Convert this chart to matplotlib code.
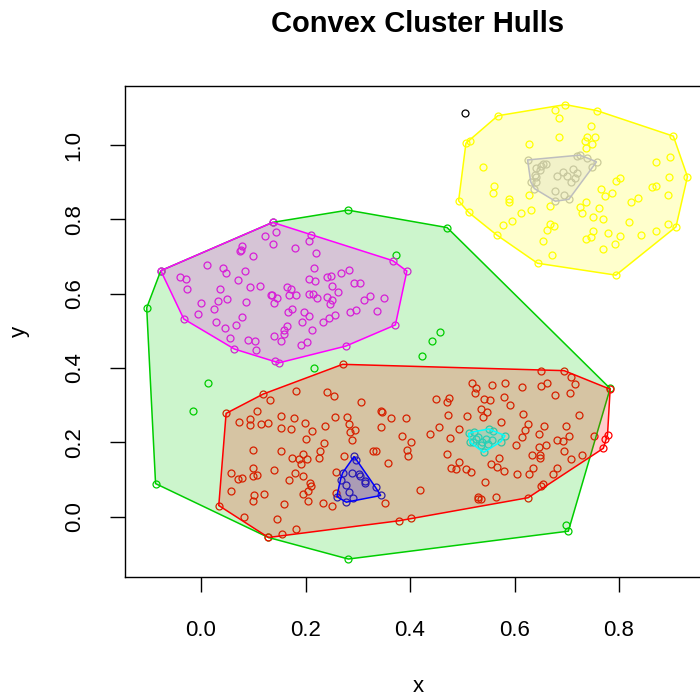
import numpy as np
import matplotlib
matplotlib.use("Agg")
from matplotlib import pyplot as plt

plt.rcParams['font.family'] = ['Liberation Sans', 'DejaVu Sans']

# 各簇的点 (x, y)
red_x = [0.271, 0.650, 0.695, 0.708, 0.715, 0.518, 0.526, 0.556, 0.582, 0.614, 0.650, 0.662, 0.524, 0.542, 0.554,
         0.579, 0.677, 0.706, 0.783, 0.119, 0.132, 0.182, 0.242, 0.255, 0.307, 0.450, 0.475, 0.470, 0.535, 0.547,
         0.591, 0.540, 0.510, 0.472, 0.616, 0.724, 0.574, 0.625, 0.657, 0.698, 0.048, 0.107, 0.073, 0.094, 0.093,
         0.115, 0.129, 0.153, 0.177, 0.153, 0.173, 0.199, 0.212, 0.237, 0.256, 0.280, 0.283, 0.294, 0.286, 0.344,
         0.346, 0.364, 0.393, 0.344, 0.288, 0.200, 0.235, 0.385, 0.401, 0.439, 0.456, 0.493, 0.477, 0.620, 0.614,
         0.647, 0.705, 0.693, 0.681, 0.660, 0.646, 0.603, 0.753, 0.773, 0.778, 0.100, 0.154, 0.174, 0.188, 0.196,
         0.191, 0.202, 0.225, 0.228, 0.274, 0.330, 0.334, 0.357, 0.394, 0.396, 0.471, 0.694, 0.708, 0.729, 0.770,
         0.633, 0.649, 0.648, 0.057, 0.071, 0.079, 0.100, 0.100, 0.108, 0.140, 0.168, 0.180, 0.195, 0.208, 0.211,
         0.204, 0.196, 0.204, 0.258, 0.258, 0.478, 0.488, 0.494, 0.508, 0.517, 0.555, 0.567, 0.570, 0.580, 0.604,
         0.628, 0.636, 0.674, 0.681, 0.544, 0.651, 0.654, 0.058, 0.101, 0.099, 0.121, 0.158, 0.233, 0.251, 0.353,
         0.419, 0.531, 0.535, 0.530, 0.565, 0.626, 0.034, 0.082, 0.145, 0.182, 0.155, 0.129, 0.379, 0.402]
red_y = [0.410, 0.392, 0.393, 0.375, 0.357, 0.361, 0.347, 0.354, 0.359, 0.349, 0.352, 0.361, 0.334, 0.316, 0.314,
         0.322, 0.328, 0.333, 0.343, 0.330, 0.314, 0.338, 0.336, 0.325, 0.308, 0.317, 0.320, 0.308, 0.290, 0.283,
         0.301, 0.269, 0.271, 0.273, 0.277, 0.274, 0.256, 0.249, 0.245, 0.243, 0.278, 0.285, 0.255, 0.262, 0.248,
         0.249, 0.251, 0.270, 0.265, 0.239, 0.237, 0.251, 0.230, 0.245, 0.269, 0.267, 0.250, 0.233, 0.227, 0.284,
         0.282, 0.265, 0.265, 0.240, 0.207, 0.210, 0.197, 0.217, 0.202, 0.222, 0.242, 0.237, 0.213, 0.233, 0.214,
         0.222, 0.217, 0.204, 0.206, 0.192, 0.187, 0.194, 0.216, 0.210, 0.220, 0.180, 0.177, 0.157, 0.154, 0.169,
         0.143, 0.154, 0.157, 0.178, 0.162, 0.176, 0.176, 0.144, 0.179, 0.163, 0.170, 0.178, 0.155, 0.166, 0.184,
         0.165, 0.165, 0.159, 0.118, 0.101, 0.105, 0.130, 0.109, 0.111, 0.126, 0.098, 0.117, 0.109, 0.091, 0.083,
         0.069, 0.061, 0.042, 0.121, 0.063, 0.132, 0.127, 0.146, 0.129, 0.119, 0.143, 0.135, 0.157, 0.124, 0.114,
         0.115, 0.132, 0.115, 0.132, 0.094, 0.083, 0.088, 0.068, 0.058, 0.043, 0.061, 0.034, 0.038, 0.030, 0.038,
         0.072, 0.054, 0.048, 0.048, 0.052, 0.051, 0.030, -0.001, -0.007, -0.034, -0.046, -0.056, -0.011, -0.003]

green_x = [-0.104, -0.077, 0.137, 0.281, 0.471, 0.374, 0.783, 0.703, 0.698, 0.282, 0.129, -0.087, 0.013,
           -0.015, 0.216, 0.422, 0.442, 0.457]
green_y = [0.562, 0.662, 0.792, 0.825, 0.778, 0.704, 0.345, -0.039, -0.022, -0.114, -0.056, 0.089, 0.361,
           0.285, 0.399, 0.432, 0.472, 0.497]

blue_x = [0.293, 0.297, 0.271, 0.288, 0.302, 0.305, 0.313, 0.314, 0.277, 0.267, 0.284, 0.291, 0.334, 0.344,
          0.260, 0.278]
blue_y = [0.162, 0.152, 0.118, 0.118, 0.114, 0.109, 0.096, 0.091, 0.084, 0.100, 0.066, 0.049, 0.079, 0.057,
          0.054, 0.039]

cyan_x = [0.512, 0.523, 0.551, 0.559, 0.582, 0.574, 0.549, 0.541, 0.536, 0.531, 0.515, 0.521, 0.538, 0.545,
          0.527, 0.556]
cyan_y = [0.224, 0.229, 0.236, 0.231, 0.218, 0.202, 0.196, 0.173, 0.193, 0.215, 0.200, 0.202, 0.200, 0.210,
          0.208, 0.206]

magenta_x = [0.137, -0.077, -0.033, 0.064, 0.142, 0.149, 0.277, 0.372, 0.394, 0.367, 0.210, 0.207, 0.221,
             0.180, 0.144, 0.122, 0.137, 0.079, 0.077, 0.075, 0.100, 0.011, 0.043, 0.048, 0.084, 0.070, -0.041,
             -0.029, -0.027, 0.036, 0.112, 0.094, 0.032, 0.049, -0.001, 0.024, -0.006, 0.028, 0.046, 0.055, 0.066,
             0.078, 0.087, 0.090, 0.104, 0.105, 0.140, 0.154, 0.158, 0.159, 0.165, 0.165, 0.172, 0.168, 0.182,
             0.133, 0.135, 0.145, 0.140, 0.174, 0.166, 0.198, 0.206, 0.194, 0.212, 0.202, 0.191, 0.217, 0.207,
             0.219, 0.242, 0.248, 0.267, 0.283, 0.292, 0.305, 0.251, 0.262, 0.241, 0.250, 0.247, 0.222, 0.207,
             0.215, 0.256, 0.244, 0.233, 0.286, 0.297, 0.311, 0.324, 0.351, 0.336]
magenta_y = [0.792, 0.662, 0.532, 0.451, 0.419, 0.414, 0.459, 0.516, 0.661, 0.689, 0.757, 0.741, 0.709,
             0.722, 0.766, 0.756, 0.733, 0.728, 0.719, 0.716, 0.701, 0.678, 0.668, 0.657, 0.662, 0.637, 0.646,
             0.639, 0.613, 0.612, 0.621, 0.617, 0.581, 0.586, 0.576, 0.558, 0.546, 0.523, 0.507, 0.482, 0.517,
             0.537, 0.577, 0.476, 0.474, 0.448, 0.486, 0.474, 0.491, 0.502, 0.513, 0.619, 0.612, 0.596, 0.596,
             0.597, 0.596, 0.589, 0.576, 0.559, 0.550, 0.550, 0.540, 0.525, 0.503, 0.469, 0.462, 0.668, 0.639,
             0.633, 0.646, 0.648, 0.657, 0.664, 0.630, 0.628, 0.621, 0.604, 0.592, 0.583, 0.572, 0.588, 0.599,
             0.600, 0.544, 0.534, 0.525, 0.550, 0.556, 0.583, 0.593, 0.589, 0.554]

yellow_x = [0.697, 0.678, 0.685, 0.757, 0.568, 0.515, 0.507, 0.904, 0.898, 0.931, 0.870, 0.895, 0.863, 0.870,
            0.893, 0.909, 0.894, 0.871, 0.843, 0.794, 0.801, 0.792, 0.769, 0.778, 0.751, 0.747, 0.736, 0.820,
            0.822, 0.836, 0.802, 0.794, 0.766, 0.773, 0.787, 0.761, 0.737, 0.725, 0.730, 0.750, 0.769, 0.747,
            0.738, 0.754, 0.734, 0.749, 0.736, 0.686, 0.628, 0.540, 0.561, 0.558, 0.589, 0.590, 0.628, 0.612,
            0.631, 0.667, 0.596, 0.577, 0.493, 0.512, 0.566, 0.644, 0.668, 0.675, 0.662, 0.655, 0.672]
yellow_y = [1.109, 1.095, 1.074, 1.093, 1.079, 1.012, 1.005, 1.024, 0.968, 0.915, 0.954, 0.913, 0.887, 0.890,
            0.865, 0.780, 0.788, 0.770, 0.759, 0.650, 0.754, 0.733, 0.721, 0.763, 0.768, 0.752, 0.747, 0.793,
            0.846, 0.858, 0.911, 0.904, 0.883, 0.864, 0.871, 0.832, 0.848, 0.833, 0.817, 0.806, 0.802, 1.051,
            1.022, 1.021, 1.010, 1.003, 0.993, 1.021, 1.002, 0.942, 0.891, 0.872, 0.855, 0.846, 0.867, 0.817,
            0.826, 0.835, 0.796, 0.785, 0.850, 0.819, 0.758, 0.682, 0.788, 0.783, 0.772, 0.743, 0.705]

gray_x = [0.625, 0.719, 0.725, 0.738, 0.757, 0.748, 0.704, 0.678, 0.638, 0.631, 0.642, 0.651, 0.655, 0.660,
          0.649, 0.639, 0.642, 0.642, 0.678, 0.695, 0.682, 0.693, 0.700, 0.711, 0.719, 0.715, 0.709]
gray_y = [0.960, 0.971, 0.973, 0.966, 0.955, 0.942, 0.854, 0.849, 0.883, 0.901, 0.939, 0.944, 0.948, 0.948,
          0.933, 0.919, 0.913, 0.900, 0.877, 0.867, 0.916, 0.928, 0.917, 0.935, 0.926, 0.912, 0.901]

noise_x = [0.505]
noise_y = [1.086]

# 簇的绘制顺序与颜色
clusters = [
    (green_x, green_y, '#00CD00'),
    (red_x, red_y, '#FF0000'),
    (blue_x, blue_y, '#0000FF'),
    (cyan_x, cyan_y, '#00FFFF'),
    (magenta_x, magenta_y, '#FF00FF'),
    (yellow_x, yellow_y, '#FFFF00'),
    (gray_x, gray_y, '#BEBEBE'),
]


def convex_hull(xs, ys):
    # Andrew 单调链算法
    pts = sorted(set(zip(xs, ys)))
    if len(pts) < 3:
        return pts

    def cross(o, a, b):
        return (a[0] - o[0]) * (b[1] - o[1]) - (a[1] - o[1]) * (b[0] - o[0])

    lower = []
    for p in pts:
        while len(lower) >= 2 and cross(lower[-2], lower[-1], p) <= 0:
            lower.pop()
        lower.append(p)
    upper = []
    for p in reversed(pts):
        while len(upper) >= 2 and cross(upper[-2], upper[-1], p) <= 0:
            upper.pop()
        upper.append(p)
    return lower[:-1] + upper[:-1]


fig = plt.figure(figsize=(7, 7), dpi=100)
# 绘图区右侧超出画布
ax = fig.add_axes([125 / 700, 1 - 576.5 / 700, 586.5 / 700, 490.5 / 700])

# 先画点
for xs, ys, col in clusters:
    ax.plot(xs, ys, 'o', mfc='none', mec=col, ms=5, mew=0.9, zorder=1)
ax.plot(noise_x, noise_y, 'o', mfc='none', mec='black', ms=5, mew=0.9, zorder=1)

# 再画半透明凸包
for i, (xs, ys, col) in enumerate(clusters):
    hull = np.array(convex_hull(xs, ys))
    ax.fill(hull[:, 0], hull[:, 1], facecolor=col, alpha=0.2, edgecolor='none', zorder=2 + i)
    ax.fill(hull[:, 0], hull[:, 1], facecolor='none', edgecolor=col, linewidth=1.1, zorder=2 + i)

ax.set_xlim(-0.1455, 0.977)
ax.set_ylim(-0.161, 1.159)
ax.set_xticks([0.0, 0.2, 0.4, 0.6, 0.8])
ax.set_xticklabels(['0.0', '0.2', '0.4', '0.6', '0.8'])
ax.set_yticks([0.0, 0.2, 0.4, 0.6, 0.8, 1.0])
ax.set_yticklabels(['0.0', '0.2', '0.4', '0.6', '0.8', '1.0'], rotation=90, va='center')
ax.tick_params(length=11, width=1, labelsize=16, direction='out')
ax.tick_params(axis='x', pad=20)
ax.tick_params(axis='y', pad=18)
for s in ax.spines.values():
    s.set_linewidth(1)

fig.text(418 / 700, 1 - 24 / 700, 'Convex Cluster Hulls', ha='center', va='center',
         fontsize=21, fontweight='bold')
fig.text(418 / 700, 1 - 686 / 700, 'x', ha='center', va='center', fontsize=16)
fig.text(19 / 700, 1 - 331 / 700, 'y', ha='center', va='center', fontsize=16, rotation=90)

plt.savefig('out.png', dpi=100)
